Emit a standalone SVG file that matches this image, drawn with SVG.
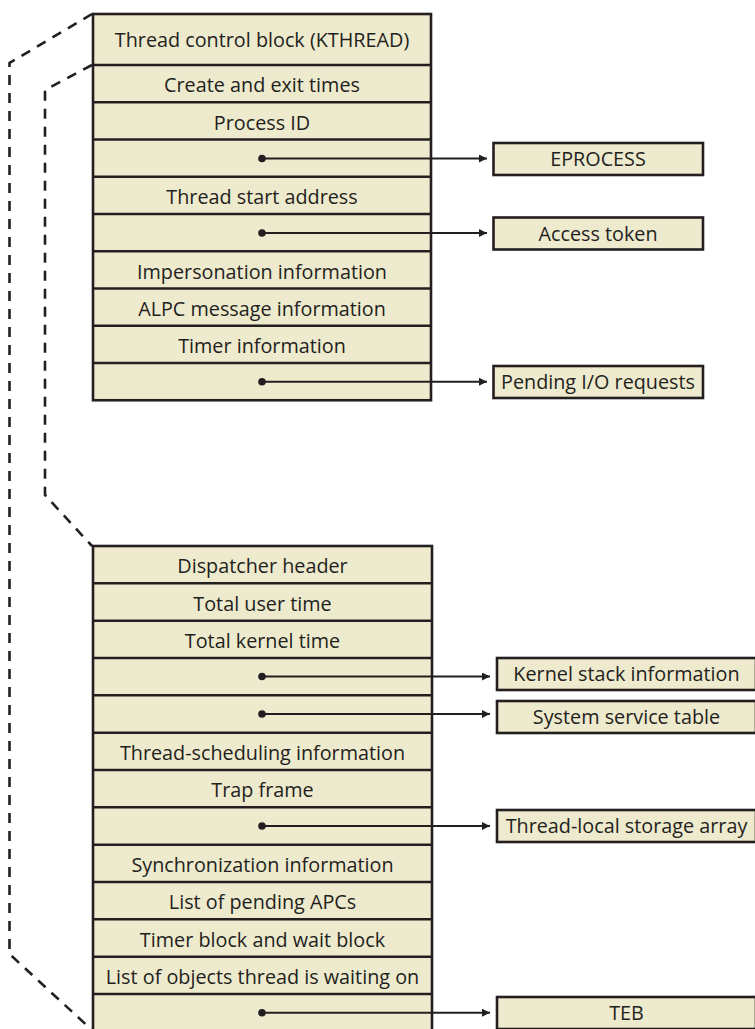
<svg xmlns="http://www.w3.org/2000/svg" width="755" height="1029" viewBox="0 0 755 1029">
<defs>
<style>
.box{fill:#EEEACD;stroke:#231F20;stroke-width:2.6}
.sep{stroke:#231F20;stroke-width:2.6}
.t{font-family:"Open Sans","Noto Sans",sans-serif;font-size:19.8px;fill:#231F20;text-anchor:middle}
.dash{fill:none;stroke:#231F20;stroke-width:2.6;stroke-dasharray:10 8}
.conn{stroke:#231F20;stroke-width:2;fill:none}
.dot{fill:#231F20}
</style>
<marker id="ah" viewBox="0 0 10 10" refX="10" refY="5" markerWidth="8" markerHeight="8" markerUnits="userSpaceOnUse" orient="auto">
<path d="M0,0 L10,5 L0,10 z" fill="#231F20"/>
</marker>
</defs>
<rect width="755" height="1029" fill="#FFFFFF"/>

<g id="dashed-outlines">
<path class="dash" d="M92,14 L9.5,63 V954 L93,1031"/>
<path class="dash" d="M92,65 L45,90 V495 L92,546"/>
</g>

<g id="kthread-top">
<rect class="box" x="93" y="14" width="338" height="386.25"/>
<line class="sep" x1="93" y1="65" x2="431" y2="65"/>
<line class="sep" x1="93" y1="102.25" x2="431" y2="102.25"/>
<line class="sep" x1="93" y1="139.5" x2="431" y2="139.5"/>
<line class="sep" x1="93" y1="176.75" x2="431" y2="176.75"/>
<line class="sep" x1="93" y1="214" x2="431" y2="214"/>
<line class="sep" x1="93" y1="251.25" x2="431" y2="251.25"/>
<line class="sep" x1="93" y1="288.5" x2="431" y2="288.5"/>
<line class="sep" x1="93" y1="325.75" x2="431" y2="325.75"/>
<line class="sep" x1="93" y1="363" x2="431" y2="363"/>
<text class="t" x="262" y="47">Thread control block (KTHREAD)</text>
<text class="t" x="262" y="92.3">Create and exit times</text>
<text class="t" x="262" y="129.5">Process ID</text>
<text class="t" x="262" y="204">Thread start address</text>
<text class="t" x="262" y="278.5">Impersonation information</text>
<text class="t" x="262" y="315.8">ALPC message information</text>
<text class="t" x="262" y="353">Timer information</text>
</g>

<g id="kthread-bottom">
<rect class="box" x="93" y="546" width="339" height="500"/>
<line class="sep" x1="93" y1="583.3" x2="432" y2="583.3"/>
<line class="sep" x1="93" y1="620.7" x2="432" y2="620.7"/>
<line class="sep" x1="93" y1="658" x2="432" y2="658"/>
<line class="sep" x1="93" y1="695.3" x2="432" y2="695.3"/>
<line class="sep" x1="93" y1="732.7" x2="432" y2="732.7"/>
<line class="sep" x1="93" y1="770" x2="432" y2="770"/>
<line class="sep" x1="93" y1="807.3" x2="432" y2="807.3"/>
<line class="sep" x1="93" y1="844.7" x2="432" y2="844.7"/>
<line class="sep" x1="93" y1="882" x2="432" y2="882"/>
<line class="sep" x1="93" y1="919.3" x2="432" y2="919.3"/>
<line class="sep" x1="93" y1="956.7" x2="432" y2="956.7"/>
<line class="sep" x1="93" y1="994" x2="432" y2="994"/>
<text class="t" x="262.5" y="573.2">Dispatcher header</text>
<text class="t" x="262.5" y="610.5">Total user time</text>
<text class="t" x="262.5" y="647.9">Total kernel time</text>
<text class="t" x="262.5" y="759.9">Thread-scheduling information</text>
<text class="t" x="262.5" y="797.2">Trap frame</text>
<text class="t" x="262.5" y="871.9">Synchronization information</text>
<text class="t" x="262.5" y="909.2">List of pending APCs</text>
<text class="t" x="262.5" y="946.5">Timer block and wait block</text>
<text class="t" x="262.5" y="983.9">List of objects thread is waiting on</text>
</g>

<g id="eprocess">
<rect class="box" x="493.5" y="143" width="209.5" height="32"/>
<text class="t" x="598" y="166">EPROCESS</text>
</g>
<g id="access-token">
<rect class="box" x="493.5" y="217.5" width="209.5" height="32"/>
<text class="t" x="598" y="240.5">Access token</text>
</g>
<g id="pending-io">
<rect class="box" x="493.5" y="366" width="209.5" height="32"/>
<text class="t" x="598" y="389">Pending I/O requests</text>
</g>
<g id="kernel-stack">
<rect class="box" x="497" y="658" width="259" height="32"/>
<text class="t" x="626.5" y="681">Kernel stack information</text>
</g>
<g id="system-service-table">
<rect class="box" x="497" y="701" width="259" height="32"/>
<text class="t" x="626.5" y="724">System service table</text>
</g>
<g id="tls-array">
<rect class="box" x="497" y="810" width="259" height="32"/>
<text class="t" x="626.5" y="833">Thread-local storage array</text>
</g>
<g id="teb">
<rect class="box" x="497" y="997" width="259" height="32"/>
<text class="t" x="626.5" y="1020">TEB</text>
</g>

<g id="connectors">
<circle class="dot" cx="262" cy="158.5" r="3.8"/>
<line class="conn" x1="262" y1="158.5" x2="487" y2="158.5" marker-end="url(#ah)"/>
<circle class="dot" cx="262" cy="233" r="3.8"/>
<line class="conn" x1="262" y1="233" x2="487" y2="233" marker-end="url(#ah)"/>
<circle class="dot" cx="262" cy="381.7" r="3.8"/>
<line class="conn" x1="262" y1="381.7" x2="487" y2="381.7" marker-end="url(#ah)"/>
<circle class="dot" cx="262" cy="676.5" r="3.8"/>
<line class="conn" x1="262" y1="676.5" x2="490" y2="676.5" marker-end="url(#ah)"/>
<circle class="dot" cx="262" cy="714" r="3.8"/>
<line class="conn" x1="262" y1="714" x2="490" y2="714" marker-end="url(#ah)"/>
<circle class="dot" cx="262" cy="826" r="3.8"/>
<line class="conn" x1="262" y1="826" x2="490" y2="826" marker-end="url(#ah)"/>
<circle class="dot" cx="262" cy="1012.7" r="3.8"/>
<line class="conn" x1="262" y1="1012.7" x2="490" y2="1012.7" marker-end="url(#ah)"/>
</g>
</svg>
